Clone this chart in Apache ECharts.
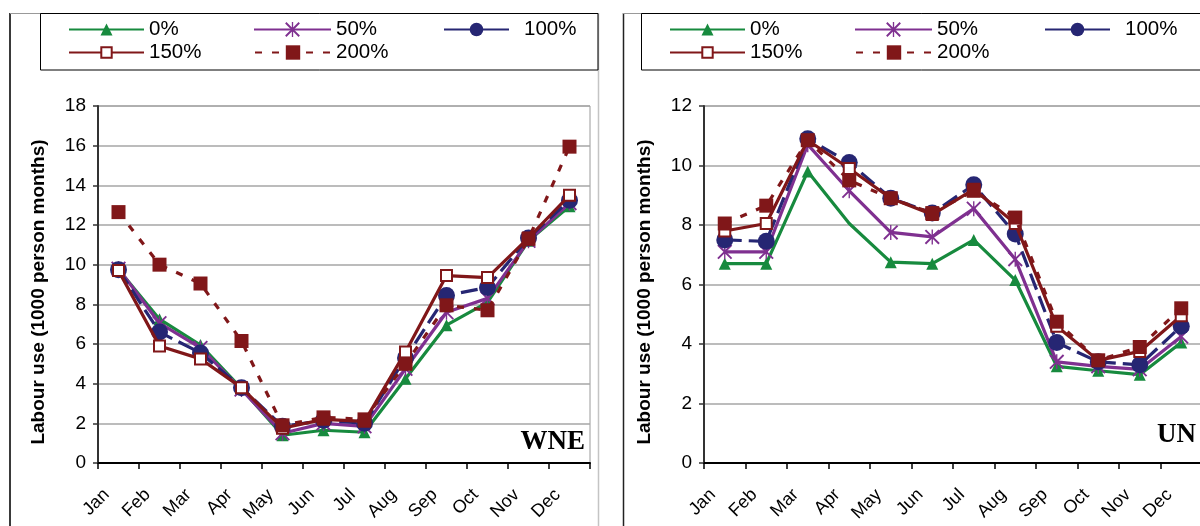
<!DOCTYPE html>
<html><head><meta charset="utf-8">
<script src="https://cdn.jsdelivr.net/npm/echarts/dist/echarts.min.js"></script>
<style>html,body{margin:0;padding:0;background:#fff}#c{width:1200px;height:526px}</style>
</head><body><div id="c"></div>
<script>
// ---- data ----
const months = ['Jan','Feb','Mar','Apr','May','Jun','Jul','Aug','Sep','Oct','Nov','Dec'];
const seriesNames = ['0%','50%','100%','150%','200%'];
const panelLabels = ['WNE','UN'];
const axisTitle = 'Labour use (1000 person months)';
const yMaxWNE = 18, yMaxUN = 12, yStep = 2;

const wne0   = [9.75, 7.25, 5.95, 3.75, 1.40, 1.65, 1.55, 4.25, 6.95, 8.10, 11.20, 12.95];
const wne50  = [9.80, 7.05, 5.80, 3.70, 1.50, 2.00, 1.85, 4.75, 7.60, 8.30, 11.20, 13.10];
const wne100 = [9.75, 6.60, 5.55, 3.80, 1.85, 2.15, 2.00, 5.30, 8.45, 8.85, 11.35, 13.25];
const wne150 = [9.70, 5.90, 5.25, 3.80, 1.75, 2.20, 2.10, 5.60, 9.45, 9.35, 11.35, 13.50];
const wne200 = [12.65, 10.00, 9.05, 6.15, 1.90, 2.30, 2.20, 5.00, 7.95, 7.70, 11.30, 15.95];

const un0   = [6.70, 6.70, 9.80, 8.05, 6.75, 6.70, 7.50, 6.15, 3.25, 3.10, 2.97, 4.05];
const un50  = [7.10, 7.10, 10.70, 9.15, 7.75, 7.60, 8.55, 6.85, 3.40, 3.25, 3.15, 4.25];
const un100 = [7.50, 7.45, 10.90, 10.10, 8.90, 8.40, 9.35, 7.70, 4.05, 3.40, 3.30, 4.60];
const un150 = [7.80, 8.05, 10.85, 9.90, 8.90, 8.35, 9.20, 8.05, 4.60, 3.45, 3.75, 4.95];
const un200 = [8.05, 8.65, 10.85, 9.50, 8.90, 8.40, 9.15, 8.25, 4.75, 3.45, 3.90, 5.20];

// ---- styles ----
const ASTER = 'path://M0 1.8L1.8 0L20 18.2L18.2 20ZM18.2 0L20 1.8L1.8 20L0 18.2ZM9.1 0L10.9 0L10.9 20L9.1 20Z';
const st = [
  {color:'#178a3e', symbol:'triangle', size:12, dash:'solid', lh:15, lw:75},
  {color:'#7f3090', symbol:ASTER, size:15, dash:'solid', lh:18.5, lw:77},
  {color:'#262673', symbol:'circle', size:17, dash:[17,7], lh:17, lw:65},
  {color:'#801719', symbol:'emptyRect', size:11, dash:'solid', lh:13, lw:75},
  {color:'#801719', symbol:'rect', size:14, dash:[7,10], lh:18, lw:76}
];
const FONT = 'Liberation Sans, Arial, sans-serif';

const wneData = [wne0, wne50, wne100, wne150, wne200];
const unData = [un0, un50, un100, un150, un200];

function mkSeries(arr, idx, panel) {
  return arr.map((vals, i) => ({
    name: seriesNames[i], type: 'line', xAxisIndex: idx, yAxisIndex: idx,
    data: vals.map((v, j) => (panel === 'UN' && i === 0 && j === 3) ? {value: v, symbol: 'none'} : v),
    symbol: st[i].symbol, symbolSize: st[i].size,
    lineStyle: {color: st[i].color, width: 3.2, type: st[i].dash},
    itemStyle: {color: st[i].color, borderColor: st[i].color, borderWidth: st[i].symbol === 'emptyRect' ? 1.7 : 0},
    emphasis: {disabled: true}, animation: false, z: 2 + i
  }));
}

function mkLegends(offX) {
  const rows = [19, 19, 19, 42, 42];
  const lefts = [68, 253, 443, 68, 254];
  return seriesNames.map((n, i) => ({
    data: [n], left: lefts[i] + offX, top: rows[i], padding: 0,
    itemWidth: st[i].lw, itemHeight: st[i].lh, selectedMode: false,
    lineStyle: i === 2 ? {type: 'solid'} : {},
    textStyle: {fontSize: 20.5, color: '#000', fontFamily: FONT, padding: i === 2 ? [0,0,0,10] : 0}
  }));
}

function xAx(idx) {
  return {
    type: 'category', gridIndex: idx, data: months, boundaryGap: true,
    axisLine: {show: true, lineStyle: {color: '#000', width: 2}},
    axisTick: {show: true, length: 6, lineStyle: {color: '#000', width: 1.5}},
    axisLabel: {rotate: 45, fontSize: 18, color: '#000', fontFamily: FONT, margin: 17, interval: 0, padding: [0, 17, 0, 0]},
    splitLine: {show: false}
  };
}
function yAx(idx, max) {
  return {
    type: 'value', gridIndex: idx, min: 0, max: max, interval: yStep,
    axisLine: {show: true, lineStyle: {color: '#333', width: 2}},
    axisTick: {show: true, length: 5, lineStyle: {color: '#333', width: 1.5}},
    axisLabel: {fontSize: 19, color: '#000', fontFamily: FONT, margin: 12},
    splitLine: {show: true, lineStyle: {color: '#a6a6a6', width: 1.5}}
  };
}

const chart = echarts.init(document.getElementById('c'), null, {renderer: 'canvas'});
const option = {
  backgroundColor: '#fff',
  animation: false,
  grid: [
    {left: 98, top: 106, width: 492, height: 357, show: true, borderColor: '#9a9a9a', borderWidth: 1, backgroundColor: 'transparent', outerBoundsMode: 'none', containLabel: false},
    {left: 704, top: 106, width: 498, height: 357, show: true, borderColor: '#9a9a9a', borderWidth: 1, backgroundColor: 'transparent', outerBoundsMode: 'none', containLabel: false}
  ],
  xAxis: [xAx(0), xAx(1)],
  yAxis: [yAx(0, yMaxWNE), yAx(1, yMaxUN)],
  legend: mkLegends(0).concat(mkLegends(601)),
  series: mkSeries(wneData, 0, 'WNE').concat(mkSeries(unData, 1, 'UN')),
  graphic: [
    // left panel frame
    {type: 'line', shape: {x1: 10, y1: 13, x2: 10, y2: 526}, style: {stroke: '#3a3a3a', lineWidth: 2}, silent: true},
    {type: 'line', shape: {x1: 10, y1: 13.5, x2: 599, y2: 13.5}, style: {stroke: '#999', lineWidth: 1}, silent: true},
    {type: 'line', shape: {x1: 598.5, y1: 13, x2: 598.5, y2: 526}, style: {stroke: '#c4c4c4', lineWidth: 1.5}, silent: true},
    {type: 'rect', shape: {x: 40.5, y: 13.5, width: 557.5, height: 56.5}, style: {stroke: '#000', lineWidth: 1, fill: 'none'}, silent: true},
    // right panel frame
    {type: 'line', shape: {x1: 623.5, y1: 13, x2: 623.5, y2: 526}, style: {stroke: '#222', lineWidth: 1.5}, silent: true},
    {type: 'line', shape: {x1: 623, y1: 13.5, x2: 1200, y2: 13.5}, style: {stroke: '#999', lineWidth: 1}, silent: true},
    {type: 'rect', shape: {x: 641.5, y: 13.5, width: 570, height: 56.5}, style: {stroke: '#000', lineWidth: 1, fill: 'none'}, silent: true},
    // axis titles
    {type: 'text', x: 39, y: 292, rotation: Math.PI / 2, silent: true,
      style: {text: axisTitle, x: 0, y: 0, textAlign: 'center', textVerticalAlign: 'middle', verticalAlign: 'middle', font: 'bold 19px ' + FONT, fill: '#000'}},
    {type: 'text', x: 645, y: 292, rotation: Math.PI / 2, silent: true,
      style: {text: axisTitle, x: 0, y: 0, textAlign: 'center', textVerticalAlign: 'middle', verticalAlign: 'middle', font: 'bold 19px ' + FONT, fill: '#000'}},
    // panel labels
    {type: 'text', x: 585, y: 442, silent: true,
      style: {text: panelLabels[0], textAlign: 'right', textVerticalAlign: 'middle', verticalAlign: 'middle', font: 'bold 27px "Liberation Serif", serif', fill: '#000'}},
    {type: 'text', x: 1157, y: 435, silent: true,
      style: {text: panelLabels[1], textAlign: 'left', textVerticalAlign: 'middle', verticalAlign: 'middle', font: 'bold 27px "Liberation Serif", serif', fill: '#000'}}
  ]
};
chart.setOption(option);
</script>
</body></html>
